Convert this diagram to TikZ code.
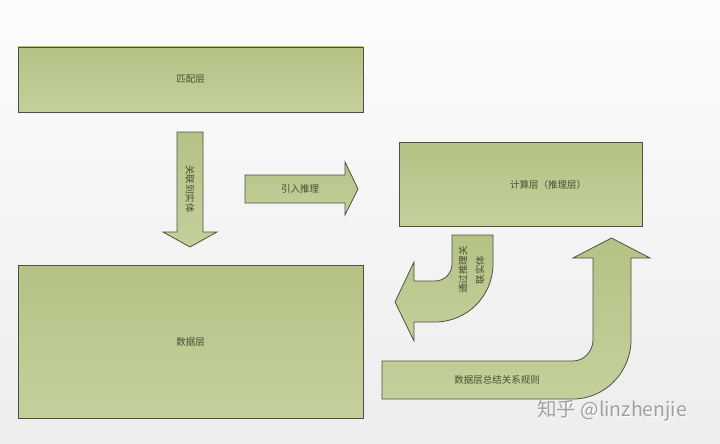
\documentclass[tikz,border=0pt]{standalone}
\usepackage{fontspec}
\newfontfamily\cjk{Noto Sans CJK SC}
\definecolor{bgtop}{HTML}{FCFCFC}
\definecolor{bgbot}{HTML}{EDEDED}
\definecolor{gtop}{HTML}{B4C285}
\definecolor{gbot}{HTML}{C4D09B}
\definecolor{edge}{HTML}{4F5043}
\definecolor{ink}{HTML}{4A4B34}
\definecolor{wm}{HTML}{A0A0A0}
\begin{document}
\begin{tikzpicture}[x=1pt,y=-1pt,
  layer/.style={draw=edge, line width=0.8pt, top color=gtop, bottom color=gbot, inner sep=0pt},
  blockarrow/.style={draw=edge, line width=0.8pt, top color=gtop, bottom color=gbot, line join=miter},
  lbl/.style={text=ink, font=\cjk\fontsize{9.5}{17}\selectfont, inner sep=0pt},
  wmark/.style={font=\cjk\fontsize{19.5}{22}\selectfont, inner sep=0pt, anchor=west}]
\useasboundingbox (0,0) rectangle (720,444);
\shade[top color=bgtop, bottom color=bgbot] (0,0) rectangle (720,444);

% layers
\node[layer, minimum width=345pt, minimum height=65pt] (match) at (190.5,79.5) {};
\node[layer, minimum width=345pt, minimum height=153pt] (data) at (190.5,341.5) {};
\node[layer, minimum width=243pt, minimum height=84pt] (calc) at (520.5,184.5) {};
\node[lbl] (matcht) at (match.center) {匹配层};
\node[lbl] (datat) at (data.center) {数据层};
\node[lbl] (calct) at (548,185) {计算层（推理层）};

% down arrow
\draw[blockarrow] (177,132) -- (203,132) -- (203,232) -- (217,232) -- (190,247)
  -- (163,232) -- (177,232) -- cycle;
\node[lbl, rotate=-90] (downt) at (190,189) {关联到实体};

% right arrow
\draw[blockarrow] (245,175) -- (345,175) -- (345,162) -- (358,189) -- (345,215)
  -- (345,203) -- (245,203) -- cycle;
\node[lbl] (rightt) at (300,188.5) {引入推理};

% curved arrow (down then left)
\draw[blockarrow] (452,235) -- (452,264) .. controls (452,273.4) and (444.4,281) .. (435,281)
  -- (414,281) -- (414,262) -- (395,302) -- (414,341) -- (414,322) -- (435,322)
  .. controls (467,322) and (493,296) .. (493,264) -- (493,235) -- cycle;
\node[lbl, rotate=90, align=center] (curvet) at (471.5,270) {通过推理关\\联实体};

% U arrow (right then up)
\draw[blockarrow] (382,361) -- (573,361) .. controls (584,361) and (593,351) .. (593,340)
  -- (593,258) -- (573,258) -- (611.5,238) -- (650,258) -- (631,258) -- (631,340)
  .. controls (631,372) and (605,399) .. (573,399) -- (382,399) -- cycle;
\node[lbl] (ut) at (497,380) {数据层总结关系规则};

% watermark
\node[wmark, text=white] (wms) at (537.7,411.7) {知乎 @linzhenjie};
\node[wmark, text=wm] (wmt) at (537,411) {知乎 @linzhenjie};
\end{tikzpicture}
\end{document}
